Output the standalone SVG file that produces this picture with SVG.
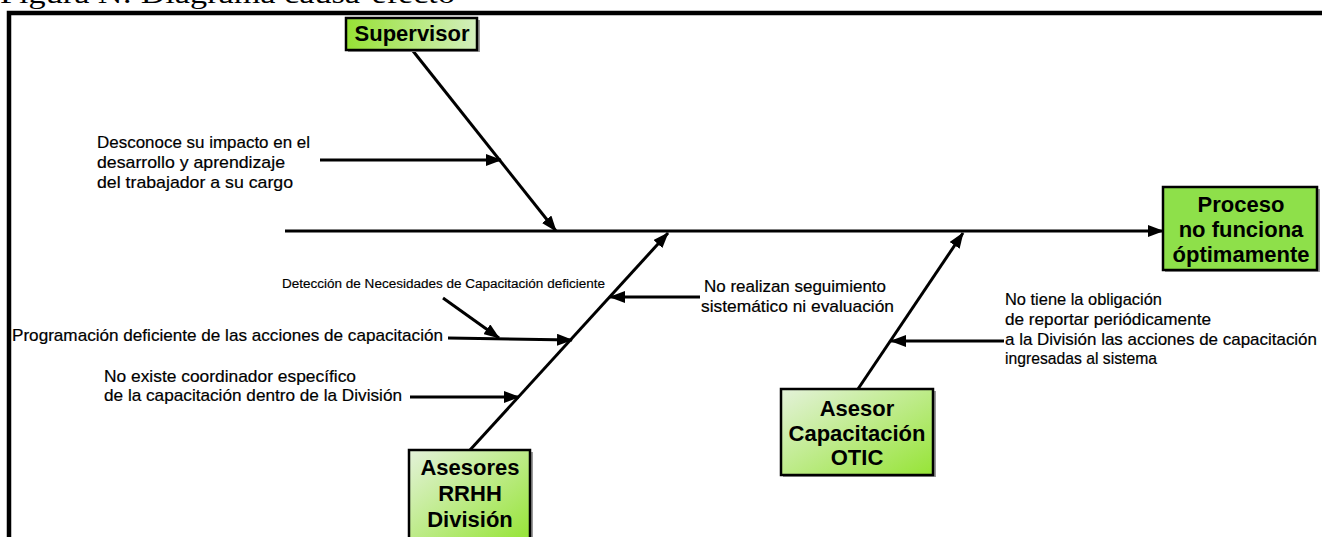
<svg xmlns="http://www.w3.org/2000/svg" width="1322" height="537" viewBox="0 0 1322 537">
  <defs>
    <marker id="head" markerUnits="userSpaceOnUse" viewBox="0 0 16 12" refX="15" refY="6" markerWidth="16" markerHeight="12" orient="auto">
      <path d="M0,0 L16,6 L0,12 z" fill="#000"/>
    </marker>
    <linearGradient id="gSup" x1="0" y1="0" x2="1" y2="0">
      <stop offset="0" stop-color="#97e235"/>
      <stop offset="1" stop-color="#d3efbd"/>
    </linearGradient>
    <linearGradient id="gRight" x1="0" y1="0" x2="1" y2="1">
      <stop offset="0" stop-color="#e4f2da"/>
      <stop offset="1" stop-color="#96e436"/>
    </linearGradient>
    <style>
      .box { stroke: #000; stroke-width: 2.5; }
      .shadow { fill: #9a9a9a; }
      .bone { stroke: #000; stroke-width: 3; fill: none; }
      .lbl { font-family: "Liberation Sans", Arial, sans-serif; font-size: 17px; fill: #000; stroke: #000; stroke-width: 0.2; }
      .small { font-family: "Liberation Sans", Arial, sans-serif; font-size: 12px; fill: #000; stroke: #000; stroke-width: 0.15; }
      .head { font-family: "Liberation Sans", Arial, sans-serif; font-size: 22px; font-weight: bold; fill: #000; text-anchor: middle; }
      .title { font-family: "Liberation Serif", "Times New Roman", serif; font-size: 27px; fill: #000; }
    </style>
  </defs>

  <rect width="1322" height="537" fill="#fff"/>

  <!-- caption, running off the top edge -->
  <text class="title" x="0" y="3" textLength="455" lengthAdjust="spacingAndGlyphs">Figura N: Diagrama causa-efecto</text>

  <!-- frame -->
  <path d="M9,537 V13 H1322" fill="none" stroke="#000" stroke-width="4.5"/>

  <g id="connectors">
    <!-- spine -->
    <line class="bone" x1="285" y1="231" x2="1163" y2="231" marker-end="url(#head)"/>
    <!-- main bones -->
    <line class="bone" x1="413" y1="51" x2="556" y2="231" marker-end="url(#head)"/>
    <line class="bone" x1="470" y1="450" x2="668" y2="233" marker-end="url(#head)"/>
    <line class="bone" x1="858" y1="389" x2="963" y2="233" marker-end="url(#head)"/>
    <!-- sub-causes -->
    <line class="bone" x1="320" y1="160" x2="501" y2="160" marker-end="url(#head)"/>
    <line class="bone" x1="700" y1="297" x2="610" y2="297" marker-end="url(#head)"/>
    <line class="bone" x1="443" y1="298" x2="499" y2="338" marker-end="url(#head)"/>
    <line class="bone" x1="448" y1="338" x2="572" y2="340" marker-end="url(#head)"/>
    <line class="bone" x1="410" y1="397" x2="519" y2="397" marker-end="url(#head)"/>
    <line class="bone" x1="1004" y1="341" x2="891" y2="341" marker-end="url(#head)"/>
  </g>

  <g id="supervisor">
    <rect class="shadow" x="348" y="20" width="132" height="32"/>
    <rect class="box" x="346" y="18" width="131" height="32" fill="url(#gSup)"/>
    <text class="head" x="412" y="41">Supervisor</text>
  </g>

  <g id="efecto">
    <rect class="shadow" x="1165" y="189" width="155" height="83"/>
    <rect class="box" x="1163" y="187" width="154" height="83" fill="#8ee04a"/>
    <text class="head" x="1241" y="212">Proceso</text>
    <text class="head" x="1241" y="237">no funciona</text>
    <text class="head" x="1241" y="262">óptimamente</text>
  </g>

  <g id="rrhh">
    <rect class="shadow" x="411" y="452" width="122" height="90"/>
    <rect class="box" x="409" y="450" width="121" height="90" fill="url(#gRight)"/>
    <text class="head" x="470" y="475">Asesores</text>
    <text class="head" x="470" y="501">RRHH</text>
    <text class="head" x="470" y="527">División</text>
  </g>

  <g id="otic">
    <rect class="shadow" x="783" y="391" width="153" height="86"/>
    <rect class="box" x="781" y="389" width="152" height="86" fill="url(#gRight)"/>
    <text class="head" x="857" y="416">Asesor</text>
    <text class="head" x="857" y="441">Capacitación</text>
    <text class="head" x="857" y="465">OTIC</text>
  </g>

  <g id="causa-desconoce">
    <text class="lbl" x="97" y="148" textLength="213" lengthAdjust="spacingAndGlyphs">Desconoce su impacto en el</text>
    <text class="lbl" x="97" y="168" textLength="188" lengthAdjust="spacingAndGlyphs">desarrollo y aprendizaje</text>
    <text class="lbl" x="97" y="188" textLength="196" lengthAdjust="spacingAndGlyphs">del trabajador a su cargo</text>
  </g>

  <g id="causa-deteccion">
    <text class="small" x="282" y="288" textLength="323" lengthAdjust="spacingAndGlyphs">Detección de Necesidades de Capacitación deficiente</text>
  </g>

  <g id="causa-seguimiento">
    <text class="lbl" x="704" y="292" textLength="182" lengthAdjust="spacingAndGlyphs">No realizan seguimiento</text>
    <text class="lbl" x="701" y="312" textLength="193" lengthAdjust="spacingAndGlyphs">sistemático ni evaluación</text>
  </g>

  <g id="causa-programacion">
    <text class="lbl" x="12" y="341" textLength="431" lengthAdjust="spacingAndGlyphs">Programación deficiente de las acciones de capacitación</text>
  </g>

  <g id="causa-coordinador">
    <text class="lbl" x="104" y="382" textLength="252" lengthAdjust="spacingAndGlyphs">No existe coordinador específico</text>
    <text class="lbl" x="104" y="401" textLength="298" lengthAdjust="spacingAndGlyphs">de la capacitación dentro de la División</text>
  </g>

  <g id="causa-obligacion">
    <text class="lbl" x="1005" y="305" textLength="157" lengthAdjust="spacingAndGlyphs">No tiene la obligación</text>
    <text class="lbl" x="1005" y="325" textLength="206" lengthAdjust="spacingAndGlyphs">de reportar periódicamente</text>
    <text class="lbl" x="1005" y="345" textLength="312" lengthAdjust="spacingAndGlyphs">a la División las acciones de capacitación</text>
    <text class="lbl" x="1005" y="364" textLength="152" lengthAdjust="spacingAndGlyphs">ingresadas al sistema</text>
  </g>
</svg>
